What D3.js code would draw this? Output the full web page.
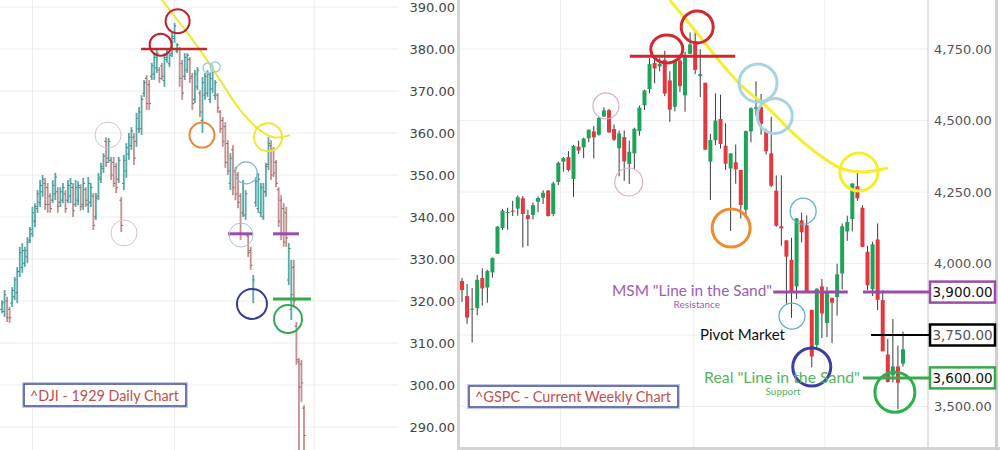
<!DOCTYPE html>
<html>
<head>
<meta charset="utf-8">
<script src="https://cdn.jsdelivr.net/npm/d3@7"></script>
<style>
  body { margin: 0; background: #fff; }
  svg { display: block; }
</style>
</head>
<body>
<svg id="chart" width="1000" height="450"></svg>
<script>
// ^DJI 1929 daily bars, [high, low, open, close]
var djiBars = [
  [320.2,317.1,318,319.6],[322.6,316.2,317.5,321.5],[321.0,315.0,320,316],[318.6,314.8,318,316],
  [323.3,318.6,319.5,322.5],[325.7,320.2,321,325],[328.1,319.5,322,327],[332.9,325.7,327,331.5],
  [333.8,326.7,328,332],[332.9,328.1,329,332],[335.2,329.0,330.5,334],[337.6,333.8,334.5,337],
  [342.4,335.2,336,341],[343.3,337.6,339,342.5],[346.4,341.0,342,345.5],[348.8,342.4,343.5,347.5],
  [350.0,344.8,346,349],[349.3,341.7,348,343],[348.1,341.0,347,343],[345.7,341.0,345,342],
  [348.8,343.3,344,347.5],[350.5,344.0,345.5,349.5],[347.1,341.0,346,342.5],[347.1,342.4,343.5,346],
  [348.1,343.3,344,347],[346.4,341.0,345.5,342],[348.8,343.3,344,347.5],[349.3,343.3,345,348],
  [348.1,340.0,347,341.5],[348.8,342.4,343,347],[348.5,342.8,344,347.5],[347.8,341.5,347,342.5],
  [349.3,341.7,343,348],[347.1,342.4,346.5,344],[349.5,341.0,343,348],[348.1,342.4,343.5,347],
  [345.7,336.9,345,338],[345.7,339.3,340,344.5],[350.5,344.0,345,349.5],[352.9,348.1,349,352],
  [355.2,350.5,351.5,354.5],[359.0,351.9,358,353],[358.8,352.9,354,358],[354.3,348.8,353.5,350],
  [354.3,347.1,353,348],[352.9,345.7,352,347],[354.3,348.1,349,353.5],[344.8,336.4,344,338],
  [354.8,346.4,348,353.5],[357.6,349.3,351,356.5],[360.0,353.6,355,359],[361.4,356.0,357,360.5],
  [360.0,352.4,359,354],[364.8,356.7,358,363.5],[366.2,360.0,361,365],[369.0,359.5,361,368],
  [372.6,368.6,369.5,372],[373.8,365.5,373,367],[372.6,365.5,371.5,367],[376.7,372.6,373.5,376],
  [379.0,372.6,374,378],[379.8,374.3,375.5,379],[375.7,371.9,375,373],[376.7,372.6,376,373.5],
  [379.0,371.0,372.5,378],[379.8,376.7,377.5,379.3],[379.0,375.7,376.5,378.5],[383.8,378.1,379,383],
  [386.2,381.4,382.5,385.5],[381.4,379.0,379.5,381],[380.5,371.0,380,373],[377.4,367.9,376.5,369.5],
  [379.0,372.6,373.5,378],[379.0,374.3,375,378.5],[378.1,371.9,377.5,373],[374.3,365.5,373.5,367],
  [375.0,367.1,368,374],[375.7,370.2,371,375],[370.2,363.8,369.5,365],[373.3,360.0,363,372],
  [374.3,367.9,369,373.5],[375.0,368.6,369.5,374],[374.3,367.1,368,373],[375.0,369.5,370.5,374.5],
  [372.6,367.9,369,372],[369.5,364.8,369,366],[365.5,360.0,365,361],[363.8,356.7,363,358],
  [362.6,351.7,361.5,353],[358.3,350.0,357.5,351],[355.2,346.4,348,354],[357.1,345.2,356,347],
  [351.9,344.0,351,345.5],[350.7,342.1,350,343.5],[345.7,334.5,345,336],[348.8,340.0,341,348],
  [346.4,339.3,340.5,345.5],[336.2,330.5,335.5,331.5],[332.9,327.4,332,328.5],[326.2,319.5,323,325],
  [349.5,342.4,343.5,348.5],[350.5,341.0,342,349],[348.1,340.0,341,347],[348.1,339.3,340,346],
  [352.9,344.8,346,352],[359.0,351.2,352.5,357.5],[358.3,348.8,357,350],[356.7,349.5,356,350.5],
  [353.6,347.1,353,348],[347.1,337.6,346.5,339],[345.2,334.5,344,336],[343.3,332.9,342,334],
  [342.4,332.9,341,335],[333.8,323.8,325,332.5],[329.8,315.5,318,321.5],[329.8,318.6,328,320],
  [315.0,304.8,314,306],[306.4,284.5,305.5,299.5],[306.0,296.0,305,300.5],[295.2,284.5,294.5,288]
];
var djiTicks = [290, 300, 310, 320, 330, 340, 350, 360, 370, 380, 390];
var djiGridBars = [12, 68, 123];   // month starts (bar index)

// ^GSPC weekly candles from week of 2021-02-15, [open, high, low, close]
var spxFirstWeek = "2021-02-15";
var spxCandles = [
  [3939,3950,3865,3907],[3886,3928,3789,3811],[3842,3914,3723,3842],[3844,3960,3819,3943],
  [3949,3983,3853,3913],[3916,3978,3863,3974],[3969,4020,3950,4020],[4034,4130,4034,4129],
  [4124,4191,4118,4185],[4179,4195,4118,4180],[4185,4219,4166,4181],[4192,4238,4167,4232],
  [4228,4236,4056,4173],[4169,4188,4061,4156],[4170,4213,4154,4204],[4216,4234,4179,4229],
  [4230,4256,4208,4247],[4255,4257,4164,4166],[4173,4286,4165,4280],[4285,4356,4274,4352],
  [4356,4372,4321,4369],[4372,4393,4322,4327],[4296,4415,4233,4411],[4409,4430,4383,4395],
  [4406,4440,4368,4437],[4438,4468,4424,4468],[4462,4481,4367,4441],[4450,4513,4447,4509],
  [4514,4546,4513,4535],[4536,4540,4458,4458],[4470,4486,4428,4433],[4403,4465,4305,4455],
  [4442,4465,4289,4357],[4348,4429,4278,4391],[4385,4475,4329,4471],[4463,4552,4447,4545],
  [4553,4608,4537,4605],[4610,4718,4595,4697],[4701,4714,4630,4682],[4689,4718,4672,4698],
  [4712,4744,4585,4594],[4640,4672,4495,4538],[4548,4713,4532,4712],[4710,4731,4600,4620],
  [4588,4740,4531,4725],[4733,4808,4733,4766],[4778,4818,4662,4677],[4655,4749,4582,4662],
  [4632,4632,4396,4398],[4356,4453,4222,4432],[4431,4595,4414,4500],[4505,4590,4402,4418],
  [4412,4490,4327,4349],[4332,4385,4114,4385],[4354,4416,4279,4329],[4327,4327,4157,4204],
  [4188,4465,4161,4463],[4462,4546,4424,4543],[4541,4637,4517,4546],[4547,4593,4450,4488],
  [4462,4471,4381,4392],[4385,4513,4267,4272],[4255,4308,4128,4132],[4130,4308,4062,4123],
  [4081,4081,3859,4024],[4013,4090,3810,3901],[3920,4158,3876,4158],[4151,4178,4074,4109],
  [4134,4168,3900,3901],[3838,3838,3637,3675],[3715,3913,3705,3912],[3920,3946,3739,3825],
  [3792,3918,3743,3899],[3880,3880,3722,3863],[3883,3999,3818,3962],[3965,4140,3910,4130],
  [4112,4167,4079,4145],[4155,4280,4112,4280],[4270,4325,4219,4228],[4195,4204,4057,4058],
  [4041,4062,3907,3924],[3910,4076,3886,4067],[4084,4140,3837,3873],[3872,3907,3693,3693],
  [3682,3736,3584,3586],[3609,3806,3584,3640],[3640,3713,3491,3583],[3650,3762,3640,3700]
];
var spxTicks = [3500, 4000, 4250, 4500, 4750];
var spxGridMonths = ["2021-07-01", "2022-01-01", "2022-07-01"];
var spxLevels = [3900, 3750, 3600];
var spxLevelNames = ["MSM \"Line in the Sand\"", "Pivot Market", "Real \"Line in the Sand\""];
var spxLevelNotes = ["Resistance", "", "Support"];
var chartTitles = ["^DJI - 1929 Daily Chart", "^GSPC - Current Weekly Chart"];

// hand-drawn marks, in bar index / price units
var djiCircles = [
  {i: 62.5, v: 381.0, r: 11, c: "#b8232b", w: 2},
  {i: 69.2, v: 386.6, r: 12, c: "#b8232b", w: 2},
  {i: 81.2, v: 375.5, r: 5, c: "#9fd0de", w: 1.5},
  {i: 84.0, v: 375.7, r: 5, c: "#9fd0de", w: 1.5},
  {i: 78.8, v: 359.5, r: 12.5, c: "#e88a3c", w: 2},
  {i: 104.8, v: 359.0, r: 14, c: "#eee635", w: 2},
  {i: 41.8, v: 359.5, r: 13, c: "#dcc0c6", w: 1},
  {i: 48.1, v: 336.2, r: 13, c: "#dcc0c6", w: 1},
  {i: 96.2, v: 350.5, r: 11, c: "#7fb9c6", w: 1.2},
  {i: 94.2, v: 335.7, r: 12, c: "#a9c2d0", w: 1},
  {i: 98.5, v: 319.3, r: 15, c: "#353c96", w: 2},
  {i: 112.7, v: 315.7, r: 14, c: "#33a852", w: 2}
];
var djiMarks = [
  {i0: 54.8, i1: 80.8, v: 380.0, c: "#c0282e", w: 2.5},
  {i0: 89.0, i1: 98.9, v: 336.0, c: "#9a4cab", w: 3},
  {i0: 106.8, i1: 117.0, v: 336.0, c: "#9a4cab", w: 3},
  {i0: 106.8, i1: 121.8, v: 320.5, c: "#3aa84e", w: 3}
];
var djiTrend = [[63.0, 391.7], [78.0, 379.8], [85.9, 372.6], [93.8, 365.5], [100.5, 361.2], [106.8, 359.0], [113.5, 359.5]];

var spxCircles = [
  {i: 40.4, v: 4750, rx: 16, ry: 14, c: "#cf2a31", w: 3},
  {i: 46.4, v: 4827, rx: 16, ry: 16, c: "#cf2a31", w: 3},
  {i: 58.4, v: 4631, rx: 19, ry: 19, c: "#a7d3e3", w: 3},
  {i: 61.7, v: 4516, rx: 17.5, ry: 17.5, c: "#a7d3e3", w: 3},
  {i: 78.3, v: 4320, rx: 19, ry: 19, c: "#f4ee2c", w: 3},
  {i: 28.4, v: 4551, rx: 13, ry: 13, c: "#dcaec8", w: 1.2},
  {i: 32.9, v: 4285, rx: 14, ry: 14, c: "#dcaec8", w: 1.2},
  {i: 53.1, v: 4124, rx: 19, ry: 19, c: "#ef8a2f", w: 3},
  {i: 67.3, v: 4183, rx: 13, ry: 13, c: "#5eb3c8", w: 1.3},
  {i: 65.1, v: 3816, rx: 13, ry: 13, c: "#5eb3c8", w: 1.3},
  {i: 69.0, v: 3638, rx: 19, ry: 19, c: "#3a3ea6", w: 3},
  {i: 85.4, v: 3550, rx: 20, ry: 20, c: "#2fae4f", w: 3}
];
var spxMarks = [
  {i0: 33.1, i1: 53.9, v: 4725, c: "#d0262d", w: 3},
  {i0: 61.4, i1: 76.1, v: 3900, c: "#9a4cab", w: 3},
  {i0: 79.1, i1: null, v: 3900, c: "#9a4cab", w: 3},
  {i0: 80.7, i1: null, v: 3750, c: "#000", w: 2},
  {i0: 79.1, i1: null, v: 3600, c: "#3aa84e", w: 3}
];
var spxTrend = [[41, 4921], [47, 4792], [50.9, 4705], [55.4, 4617], [60.2, 4547], [65.3, 4456], [70, 4386], [74.6, 4334], [78.5, 4320], [84, 4334]];
var levelColors = ["#9a4cab", "#000", "#3aa84e"];
var levelTextColors = ["#9c5cb4", "#111", "#55b45c"];

var svg = d3.select("#chart");
var W = 1000, H = 450;
var rightAxisX = 928, panelLeft = 458;

svg.append("rect").attr("width", W).attr("height", H).attr("fill", "#fff");

// ---------- left panel: DJI 1929 ----------
var xL = d3.scaleLinear().domain([0, djiBars.length - 1]).range([2, 304]);
var yL = d3.scaleLinear().domain([290, 390]).range([427, 7]);

var left = svg.append("g");
left.selectAll("line.hg").data(djiTicks).enter().append("line")
  .attr("x1", 0).attr("x2", 398).attr("y1", d => yL(d)).attr("y2", d => yL(d))
  .attr("stroke", "#ececec");
left.selectAll("line.vg").data(djiGridBars).enter().append("line")
  .attr("x1", d => xL(d)).attr("x2", d => xL(d)).attr("y1", 0).attr("y2", H)
  .attr("stroke", "#ececec");

var bar = left.selectAll("g.bar").data(djiBars).enter().append("g")
  .attr("stroke", d => d[3] >= d[2] ? "#56aaa8" : "#c48f90")
  .attr("stroke-width", 1.8);
bar.append("line")
  .attr("x1", (d, i) => xL(i)).attr("x2", (d, i) => xL(i))
  .attr("y1", d => yL(d[0])).attr("y2", d => yL(d[1]));
bar.append("line").attr("stroke", "#6f6f6f").attr("stroke-width", 1)
  .attr("x1", (d, i) => xL(i) - 1.8).attr("x2", (d, i) => xL(i))
  .attr("y1", d => yL(d[2])).attr("y2", d => yL(d[2]));
bar.append("line").attr("stroke", "#6f6f6f").attr("stroke-width", 1)
  .attr("x1", (d, i) => xL(i)).attr("x2", (d, i) => xL(i) + 1.8)
  .attr("y1", d => yL(d[3])).attr("y2", d => yL(d[3]));

left.append("path").datum(djiTrend)
  .attr("d", d3.line().x(d => xL(d[0])).y(d => yL(d[1])).curve(d3.curveCatmullRom))
  .attr("fill", "none").attr("stroke", "#eee635").attr("stroke-width", 2);
left.selectAll("line.mk").data(djiMarks).enter().append("line")
  .attr("x1", d => xL(d.i0)).attr("x2", d => xL(d.i1))
  .attr("y1", d => yL(d.v)).attr("y2", d => yL(d.v))
  .attr("stroke", d => d.c).attr("stroke-width", d => d.w);
left.selectAll("circle").data(djiCircles).enter().append("circle")
  .attr("cx", d => xL(d.i)).attr("cy", d => yL(d.v)).attr("r", d => d.r)
  .attr("fill", "none").attr("stroke", d => d.c).attr("stroke-width", d => d.w);

// title box
function titleBox(g, x, y, w, h, txt) {
  g.append("rect").attr("x", x - 1.5).attr("y", y - 1.5).attr("width", w + 3).attr("height", h + 3)
    .attr("fill", "none").attr("stroke", "#c3c9e2").attr("stroke-width", 1);
  g.append("rect").attr("x", x).attr("y", y).attr("width", w).attr("height", h)
    .attr("fill", "#fff").attr("stroke", "#3d4a98").attr("stroke-width", 1.5);
  g.append("text").attr("x", x + 6).attr("y", y + h - 5.5)
    .attr("font-family", "Lato, 'Open Sans', sans-serif").attr("font-size", 15.5)
    .attr("fill", "#c0504d").attr("textLength", w - 13).attr("lengthAdjust", "spacingAndGlyphs")
    .text(txt);
}
titleBox(left, 24, 384, 162, 22, chartTitles[0]);

// ---------- right panel: S&P 500 ----------
var t0 = new Date(spxFirstWeek);
var weekMs = 7 * 864e5;
var xR = d3.scaleLinear().domain([0, spxCandles.length - 1]).range([462, 903]);
var yR = d3.scaleLinear().domain([3500, 4750]).range([406.5, 49]);

var right = svg.append("g");
right.selectAll("line.hg").data(spxTicks.concat([3750])).enter().append("line")
  .attr("x1", panelLeft).attr("x2", rightAxisX).attr("y1", d => yR(d)).attr("y2", d => yR(d))
  .attr("stroke", "#eeeeee");
right.selectAll("line.vg").data(spxGridMonths).enter().append("line")
  .attr("x1", d => xR((new Date(d) - t0) / weekMs)).attr("x2", d => xR((new Date(d) - t0) / weekMs))
  .attr("y1", 0).attr("y2", 447).attr("stroke", "#eeeeee");

var candle = right.selectAll("g.c").data(spxCandles).enter().append("g");
candle.append("line")
  .attr("x1", (d, i) => xR(i)).attr("x2", (d, i) => xR(i))
  .attr("y1", d => yR(d[1])).attr("y2", d => yR(d[2]))
  .attr("stroke", "#3b3b3b").attr("stroke-width", 1);
candle.append("rect")
  .attr("x", (d, i) => xR(i) - 2).attr("width", 4)
  .attr("y", d => yR(Math.max(d[0], d[3])))
  .attr("height", d => Math.max(1, Math.abs(yR(d[0]) - yR(d[3]))))
  .attr("fill", d => d[3] >= d[0] ? "#1fa35a" : "#e2383e");

// frame
right.append("rect").attr("x", panelLeft - 1).attr("y", 0).attr("width", 3).attr("height", H).attr("fill", "#d4d4d4");
right.append("rect").attr("x", panelLeft).attr("y", 447).attr("width", W - panelLeft).attr("height", 3).attr("fill", "#d4d4d4");
right.append("line").attr("x1", rightAxisX).attr("x2", rightAxisX).attr("y1", 0).attr("y2", 447).attr("stroke", "#c8c8c8");
right.append("rect").attr("x", 995).attr("y", 0).attr("width", 3).attr("height", H).attr("fill", "#cfcfcf");

// axes
var axL = right.append("g").attr("transform", "translate(" + panelLeft + ",0)")
  .call(d3.axisLeft(yL).tickValues(djiTicks).tickFormat(d3.format(".2f")).tickSize(0).tickPadding(3));
axL.select(".domain").remove();
axL.selectAll("text").attr("font-family", "'DejaVu Sans', Verdana, sans-serif").attr("font-size", 13).attr("fill", "#444");

var axR = right.append("g").attr("transform", "translate(" + rightAxisX + ",0)")
  .call(d3.axisRight(yR).tickValues(spxTicks).tickFormat(d3.format(",.2f")).tickSize(0).tickPadding(6));
axR.select(".domain").remove();
axR.selectAll("text").attr("font-family", "'DejaVu Sans', Verdana, sans-serif").attr("font-size", 13).attr("fill", "#555");

// annotations
right.append("path").datum(spxTrend)
  .attr("d", d3.line().x(d => xR(d[0])).y(d => yR(d[1])).curve(d3.curveCatmullRom))
  .attr("fill", "none").attr("stroke", "#f4ee2c").attr("stroke-width", 3);
right.selectAll("line.mk").data(spxMarks).enter().append("line")
  .attr("x1", d => xR(d.i0)).attr("x2", d => d.i1 == null ? rightAxisX + 2 : xR(d.i1))
  .attr("y1", d => yR(d.v)).attr("y2", d => yR(d.v))
  .attr("stroke", d => d.c).attr("stroke-width", d => d.w);
right.selectAll("ellipse").data(spxCircles).enter().append("ellipse")
  .attr("cx", d => xR(d.i)).attr("cy", d => yR(d.v)).attr("rx", d => d.rx).attr("ry", d => d.ry)
  .attr("fill", "none").attr("stroke", d => d.c).attr("stroke-width", d => d.w);

// level boxes on the right axis
var lvl = right.selectAll("g.lvl").data(spxLevels).enter().append("g");
lvl.append("rect")
  .attr("x", rightAxisX + 2).attr("y", d => yR(d) - 10.5).attr("width", 65).attr("height", 21)
  .attr("fill", "#fff").attr("stroke", (d, i) => levelColors[i]).attr("stroke-width", 2.5);
lvl.append("text")
  .attr("x", rightAxisX + 34.5).attr("y", d => yR(d) + 5).attr("text-anchor", "middle")
  .attr("font-family", "'DejaVu Sans', Verdana, sans-serif").attr("font-size", 13.5)
  .attr("fill", (d, i) => i == 1 ? "#555" : "#111")
  .text(d => d3.format(",.2f")(d));

// level names
var nameFont = "Lato, 'Open Sans', sans-serif";
right.append("text").attr("x", 772).attr("y", yR(spxLevels[0]) + 4).attr("text-anchor", "end")
  .attr("font-family", nameFont).attr("font-size", 15).attr("fill", levelTextColors[0])
  .attr("textLength", 160).attr("lengthAdjust", "spacingAndGlyphs").text(spxLevelNames[0]);
right.append("text").attr("x", 720).attr("y", yR(spxLevels[0]) + 16).attr("text-anchor", "end")
  .attr("font-family", nameFont).attr("font-size", 10).attr("fill", levelTextColors[0])
  .text(spxLevelNotes[0]);
right.append("text").attr("x", 700).attr("y", yR(spxLevels[1]) + 5)
  .attr("font-family", nameFont).attr("font-size", 15).attr("fill", levelTextColors[1])
  .attr("textLength", 85).attr("lengthAdjust", "spacingAndGlyphs").text(spxLevelNames[1]);
right.append("text").attr("x", 704).attr("y", yR(spxLevels[2]) + 5)
  .attr("font-family", nameFont).attr("font-size", 15).attr("fill", levelTextColors[2])
  .attr("textLength", 156).attr("lengthAdjust", "spacingAndGlyphs").text(spxLevelNames[2]);
right.append("text").attr("x", 783).attr("y", yR(spxLevels[2]) + 17).attr("text-anchor", "middle")
  .attr("font-family", nameFont).attr("font-size", 10).attr("fill", levelTextColors[2])
  .text(spxLevelNotes[2]);

titleBox(right, 469, 386, 209, 21, chartTitles[1]);
</script>
</body>
</html>
